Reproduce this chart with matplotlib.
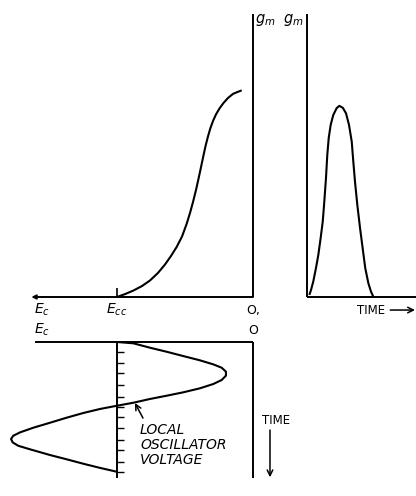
import matplotlib
matplotlib.use('Agg')
import matplotlib.pyplot as plt

# curva de transconductancia gm vs Ec (voltios, gm normalizado)
ec_curva = [-10.0, -9.41, -8.80, -8.16, -7.57, -6.99, -6.47, -6.03, -5.61,
            -5.22, -4.88, -4.63, -4.41, -4.19, -4.01, -3.82, -3.65, -3.49,
            -3.32, -3.14, -2.94, -2.72, -2.46, -2.17, -1.84, -1.47, -1.14,
            -0.83]
gm_curva = [0.0, 0.014, 0.031, 0.053, 0.080, 0.116, 0.157, 0.198, 0.242,
            0.292, 0.353, 0.406, 0.459, 0.517, 0.570, 0.628, 0.681, 0.729,
            0.773, 0.814, 0.850, 0.882, 0.911, 0.937, 0.961, 0.981, 0.990,
            0.998]

# pulso de gm en el tiempo (fraccion de periodo)
t_pulso = [0.018, 0.031, 0.048, 0.069, 0.087, 0.105, 0.121, 0.133, 0.146,
           0.156, 0.167, 0.182, 0.202, 0.228, 0.248, 0.275, 0.300, 0.323,
           0.344, 0.356, 0.369, 0.387, 0.408, 0.428, 0.448, 0.472, 0.492,
           0.510]
gm_pulso = [0.010, 0.034, 0.074, 0.140, 0.203, 0.285, 0.364, 0.460, 0.575,
            0.686, 0.768, 0.831, 0.879, 0.912, 0.923, 0.914, 0.887, 0.831,
            0.750, 0.654, 0.557, 0.444, 0.332, 0.235, 0.139, 0.066, 0.026,
            0.001]

# tension del oscilador local (Ec vs tiempo)
ec_osc = [-10.0, -9.41, -8.80, -7.57, -6.35, -5.13, -3.90, -2.92, -2.30,
          -1.99, -1.99, -2.30, -2.92, -3.90, -5.13, -6.35, -7.57, -8.80,
          -10.0, -11.25, -12.48, -13.70, -14.93, -16.15, -17.13, -17.63,
          -17.79, -17.67, -17.26, -16.40, -14.93, -13.70, -12.48, -11.25,
          -10.0]
t_osc = [0.0, 0.005, 0.010, 0.044, 0.075, 0.108, 0.141, 0.172, 0.198,
         0.228, 0.259, 0.292, 0.323, 0.356, 0.387, 0.413, 0.438, 0.467,
         0.490, 0.515, 0.546, 0.582, 0.621, 0.659, 0.695, 0.721, 0.746,
         0.772, 0.798, 0.825, 0.869, 0.902, 0.936, 0.968, 0.998]
marcas_t = [0.08, 0.16, 0.24, 0.33, 0.42, 0.50, 0.58, 0.66, 0.75, 0.83,
            0.92, 1.0]
Ecc = -10.0

W, H = 416, 496
fig = plt.figure(figsize=(W / 100, H / 100), dpi=100)
fig.patch.set_facecolor('white')

def caja(x0, x1, y0, y1):
    return [x0 / W, 1 - y1 / H, (x1 - x0) / W, (y1 - y0) / H]

sup = fig.add_axes(caja(0, 260, 10, 300))
sup.set_xlim(-18.603, 0.515)
sup.set_ylim(-0.0145, 1.386)

der = fig.add_axes(caja(300, 416, 10, 300))
der.set_xlim(-0.0538, 0.838)
der.set_ylim(-0.0145, 1.386)

inf = fig.add_axes(caja(0, 260, 335, 490))
inf.set_xlim(-18.603, 0.515)
inf.set_ylim(1.138, -0.0538)

for ax in (sup, der, inf):
    ax.axis('off')

k = dict(color='black', clip_on=False, solid_capstyle='butt',
         solid_joinstyle='round')
txt = dict(color='black', ha='center', va='center')
flecha = dict(arrowstyle='->', lw=1.1, color='black', shrinkA=0, shrinkB=0)

# panel superior izquierdo
sup.plot(ec_curva, gm_curva, lw=1.5, **k)
sup.plot([0, 0], [0, 1.367], lw=1.4, **k)
sup.annotate('', xy=(-16.3, 0), xytext=(0, 0), annotation_clip=False,
             arrowprops=dict(arrowstyle='-|>', lw=1.4, color='black',
                             mutation_scale=6, shrinkA=0, shrinkB=0))
sup.plot([Ecc, Ecc], [0, 0.045], lw=1.2, **k)
sup.text(-15.5, -0.063, '$E_c$', fontsize=10, **txt)
sup.text(Ecc, -0.063, '$E_{cc}$', fontsize=10, **txt)
sup.text(0.05, -0.063, 'O,', fontsize=9, **txt)
sup.text(0.88, 1.338, '$g_m$', fontsize=10.5, **txt)

# panel superior derecho
der.plot(t_pulso, gm_pulso, lw=1.5, **k)
der.plot([0, 0], [0, 1.367], lw=1.4, **k)
der.plot([0, 0.84], [0, 0], lw=1.4, **k)
der.text(-0.108, 1.338, '$g_m$', fontsize=10.5, **txt)
der.text(0.49, -0.063, 'TIME', fontsize=8.5, **txt)
der.annotate('', xy=(0.83, -0.063), xytext=(0.64, -0.063),
             annotation_clip=False, arrowprops=flecha)

# panel inferior
inf.plot(ec_osc, t_osc, lw=1.5, **k)
inf.plot([-16.0, 0], [0, 0], lw=1.4, **k)
inf.plot([0, 0], [0, 1.046], lw=1.4, **k)
inf.plot([Ecc, Ecc], [0, 1.046], lw=1.4, **k)
inf.hlines(marcas_t, Ecc, Ecc + 0.5, color='black', lw=1.0, clip_on=False)
inf.text(-15.5, -0.092, '$E_c$', fontsize=10, **txt)
inf.text(0.05, -0.092, 'O', fontsize=9, **txt)
inf.text(-8.31, 0.623, 'LOCAL\nOSCILLATOR\nVOLTAGE', fontsize=10,
         fontstyle='italic', color='black', ha='left', va='top',
         linespacing=1.1)
inf.annotate('', xy=(-8.68, 0.469), xytext=(-8.09, 0.585),
             annotation_clip=False, arrowprops=flecha)
inf.text(1.69, 0.6, 'TIME', fontsize=8.5, **txt)
inf.annotate('', xy=(1.25, 1.04), xytext=(1.25, 0.677),
             annotation_clip=False, arrowprops=flecha)

fig.savefig('out.png', dpi=100)
